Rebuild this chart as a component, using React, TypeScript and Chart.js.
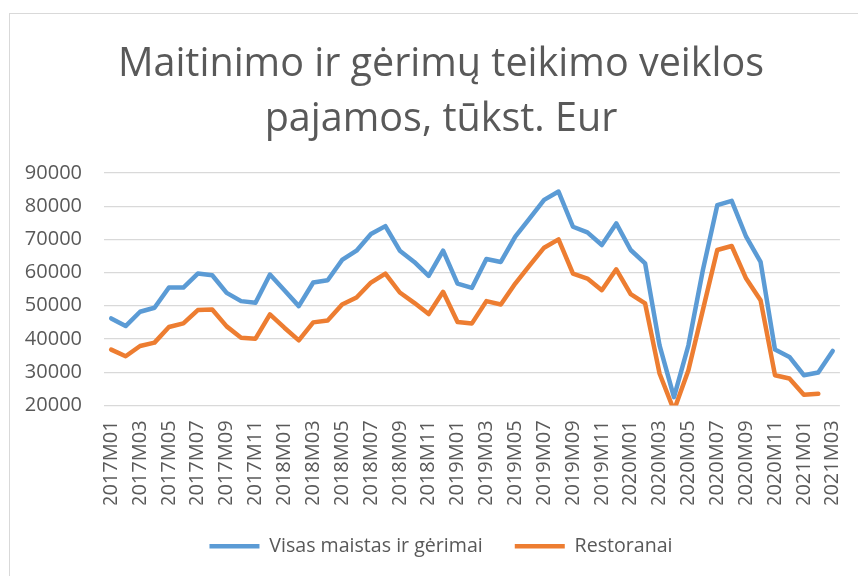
import { useEffect, useRef } from "react";
import { Chart, registerables } from "chart.js";

Chart.register(...registerables);

const categories = [
  "2017M01", "2017M02", "2017M03", "2017M04", "2017M05", "2017M06", "2017M07", "2017M08", "2017M09", "2017M10", "2017M11", "2017M12",
  "2018M01", "2018M02", "2018M03", "2018M04", "2018M05", "2018M06", "2018M07", "2018M08", "2018M09", "2018M10", "2018M11", "2018M12",
  "2019M01", "2019M02", "2019M03", "2019M04", "2019M05", "2019M06", "2019M07", "2019M08", "2019M09", "2019M10", "2019M11", "2019M12",
  "2020M01", "2020M02", "2020M03", "2020M04", "2020M05", "2020M06", "2020M07", "2020M08", "2020M09", "2020M10", "2020M11", "2020M12",
  "2021M01", "2021M02", "2021M03",
];

const visasMaistas = [
  46200, 43900, 48200, 49400, 55500, 55500, 59700, 59200, 53900, 51400, 50900, 59400,
  54700, 49900, 57000, 57700, 63800, 66600, 71600, 74000, 66600, 63200, 59000, 66600,
  56700, 55400, 64100, 63200, 70800, 76300, 81900, 84400, 73800, 72100, 68300, 74800,
  66800, 62800, 38100, 22500, 38100, 60700, 80300, 81600, 70800, 63200, 36800, 34600,
  29100, 29900, 36400,
];

const restoranai = [
  36800, 34800, 37900, 38900, 43600, 44700, 48700, 48900, 43800, 40400, 40100, 47400,
  43400, 39600, 45000, 45600, 50400, 52500, 57000, 59700, 54000, 50900, 47500, 54200,
  45100, 44700, 51400, 50400, 56700, 62200, 67500, 70000, 59700, 58200, 54700, 61000,
  53500, 50700, 29600, 18500, 30600, 48700, 66800, 68000, 58200, 51700, 29100, 28100,
  23200, 23500, null,
];

const seriesNames = ["Visas maistas ir gėrimai", "Restoranai"];
const titleLines = ["Maitinimo ir gėrimų teikimo veiklos", "pajamos, tūkst. Eur"];
const yMin = 20000;
const yMax = 90000;
const yStep = 10000;

const TEXT = "#595959";
const FONT = "'Open Sans', 'Noto Sans', sans-serif";

export default function App() {
  const ref = useRef<HTMLCanvasElement>(null);

  useEffect(() => {
    if (!ref.current) return;
    const chart = new Chart(ref.current, {
      type: "line",
      data: {
        labels: categories,
        datasets: [
          {
            label: seriesNames[0],
            data: visasMaistas,
            borderColor: "#5B9BD5",
            backgroundColor: "#5B9BD5",
            borderWidth: 4.5,
            pointRadius: 0,
            tension: 0,
            borderJoinStyle: "round",
            borderCapStyle: "round",
          },
          {
            label: seriesNames[1],
            data: restoranai,
            borderColor: "#ED7D31",
            backgroundColor: "#ED7D31",
            borderWidth: 4.5,
            pointRadius: 0,
            tension: 0,
            borderJoinStyle: "round",
            borderCapStyle: "round",
          },
        ],
      },
      options: {
        animation: false,
        responsive: false,
        maintainAspectRatio: false,
        layout: { padding: { left: 15, right: 15, top: 0, bottom: 10 } },
        plugins: {
          title: {
            display: true,
            text: titleLines,
            color: TEXT,
            font: { family: FONT, size: 39.5, weight: "normal", lineHeight: 1.392 },
            padding: { top: 23, bottom: 26 },
          },
          legend: {
            display: true,
            position: "bottom",
            labels: {
              usePointStyle: true,
              pointStyle: "line",
              pointStyleWidth: 50,
              color: TEXT,
              font: { family: FONT, size: 19.6 },
              padding: 32,
            },
          },
          tooltip: { enabled: false },
        },
        scales: {
          x: {
            type: "category",
            offset: true,
            grid: { display: false, drawTicks: false },
            border: { display: false },
            afterFit: (s: any) => {
              s.height = 99;
            },
            ticks: {
              autoSkip: false,
              maxRotation: 90,
              minRotation: 90,
              padding: 15,
              color: TEXT,
              font: { family: FONT, size: 20 },
              callback: (_v: any, i: number) => (i % 2 === 0 ? categories[i] : ""),
            },
          },
          y: {
            min: yMin,
            max: yMax,
            grid: { color: "#d9d9d9", lineWidth: 1.3, drawTicks: false },
            border: { display: false },
            afterFit: (s: any) => {
              s.width = 79;
            },
            ticks: {
              stepSize: yStep,
              padding: 22,
              color: TEXT,
              font: { family: FONT, size: 20 },
              callback: (v: any) => String(v),
            },
          },
          yRightSpacer: {
            type: "linear",
            position: "right",
            display: true,
            grid: { display: false, drawTicks: false },
            border: { display: false },
            ticks: { display: false },
            afterFit: (s: any) => {
              s.width = 15;
            },
          },
        },
      },
    });
    return () => chart.destroy();
  }, []);

  return (
    <div
      style={{
        position: "fixed",
        left: 9,
        top: 13,
        width: 870,
        height: 570,
        borderLeft: "1px solid #d9d9d9",
        borderTop: "1px solid #d9d9d9",
        background: "#fff",
      }}
    >
      <canvas ref={ref} width={862} height={562} style={{ display: "block" }} />
    </div>
  );
}
